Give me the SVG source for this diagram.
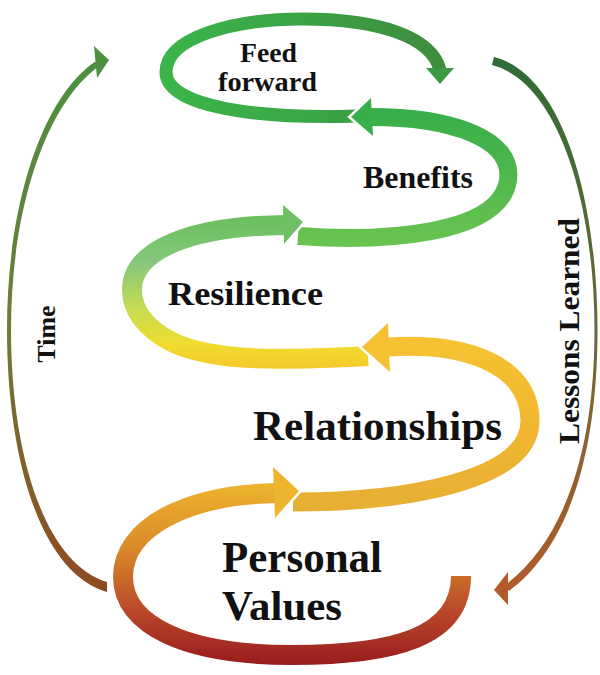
<svg xmlns="http://www.w3.org/2000/svg" width="600" height="675" viewBox="0 0 600 675">
<style>
.lbl{font-family:"Liberation Serif","Times New Roman",serif;font-weight:bold;fill:#111}
.rib{fill:none;stroke-linecap:butt}
.gap{fill:none;stroke:#fff;stroke-width:5;stroke-linejoin:miter;stroke-linecap:butt}
</style>
<defs>
<linearGradient id="gPV" gradientUnits="userSpaceOnUse" x1="0" y1="483" x2="0" y2="665">
<stop offset="0" stop-color="#EDB42C"/><stop offset="0.35" stop-color="#DB8B2A"/><stop offset="0.7" stop-color="#B9492A"/><stop offset="1" stop-color="#981B1E"/>
</linearGradient>
<linearGradient id="gRel" gradientUnits="userSpaceOnUse" x1="0" y1="333" x2="0" y2="511">
<stop offset="0" stop-color="#F6C331"/><stop offset="0.5" stop-color="#F2B731"/><stop offset="1" stop-color="#E6AE33"/>
</linearGradient>
<linearGradient id="gRes" gradientUnits="userSpaceOnUse" x1="0" y1="218" x2="0" y2="367">
<stop offset="0" stop-color="#6BBF5E"/><stop offset="0.3" stop-color="#86C77D"/><stop offset="0.62" stop-color="#C9DC50"/><stop offset="0.85" stop-color="#F0DC2E"/><stop offset="1" stop-color="#F4CB2C"/>
</linearGradient>
<linearGradient id="gBen" gradientUnits="userSpaceOnUse" x1="0" y1="108" x2="0" y2="247">
<stop offset="0" stop-color="#37AD4A"/><stop offset="1" stop-color="#6AC450"/>
</linearGradient>
<linearGradient id="gFeed" gradientUnits="userSpaceOnUse" x1="170" y1="100" x2="450" y2="40">
<stop offset="0" stop-color="#3BB54A"/><stop offset="0.5" stop-color="#3AA446"/><stop offset="1" stop-color="#3E8A3C"/>
</linearGradient>
<linearGradient id="gTime" gradientUnits="userSpaceOnUse" x1="0" y1="55" x2="0" y2="592">
<stop offset="0" stop-color="#4C9140"/><stop offset="0.5" stop-color="#6F7A3A"/><stop offset="1" stop-color="#8E4A20"/>
</linearGradient>
<linearGradient id="gLes" gradientUnits="userSpaceOnUse" x1="0" y1="57" x2="0" y2="605">
<stop offset="0" stop-color="#2F6B35"/><stop offset="0.5" stop-color="#6A6A36"/><stop offset="1" stop-color="#B5592A"/>
</linearGradient>
</defs>

<g id="connectors">
<g id="time-arc">
<path d="M107,592 C38,572 7,452 7,330 C7,203 43,97 95.3,61.5 L98.7,66.5 C47,103 11,207 11,330 C11,448 42,562 107,582 Z" fill="url(#gTime)"/>
<polygon points="109,60 94,46 97,78" fill="#4C9140"/>
<text class="lbl" font-size="26" text-anchor="middle" transform="translate(55,334) rotate(-90)">Time</text>
</g>
<g id="lessons-arc">
<path d="M494,57 C562,74 597.5,198 597.5,330 C597.5,457 567,548 509,591 L505,585 C563,542 594.5,453 594.5,330 C594.5,202 558,82 492,65 Z" fill="url(#gLes)"/>
<polygon points="494,590 508,572 508,605" fill="#B5592A"/>
<text class="lbl" font-size="29" text-anchor="middle" transform="translate(579,331) rotate(-90)" textLength="226" lengthAdjust="spacingAndGlyphs">Lessons Learned</text>
</g>
</g>

<g id="feed-forward">
<path class="rib" d="M356,116 C262,119 166,108 166,72 C166,38 232,19 302,19 C382,19 432,38 440,70" stroke="url(#gFeed)" stroke-width="13"/>
<polygon points="440,84 426,68 454,68" fill="#3C9A42"/>
<text class="lbl" font-size="28" x="240" y="62" textLength="57" lengthAdjust="spacingAndGlyphs">Feed</text>
<text class="lbl" font-size="28" x="218" y="91" textLength="99" lengthAdjust="spacingAndGlyphs">forward</text>
</g>

<g id="benefits">
<path class="rib" d="M298,236 C380,242 500,236 508,180 C514,138 450,117 370,117" stroke="url(#gBen)" stroke-width="18"/>
<polyline class="gap" points="371,98 351,117 373,136"/>
<polygon points="351,117 371,98 373,136" fill="#38AE4A"/>
<text class="lbl" font-size="31" x="363" y="188" textLength="110" lengthAdjust="spacingAndGlyphs">Benefits</text>
</g>

<g id="resilience">
<path class="rib" d="M368,356 C290,360 215,363 172,342 C143,327 132,308 132,290 C132,250 190,226 285,225" stroke="url(#gRes)" stroke-width="20"/>
<polyline class="gap" points="283,205 303,222 284,244"/>
<polygon points="303,222 283,205 284,244" fill="#6FC064"/>
<text class="lbl" font-size="33" x="168" y="305" textLength="155" lengthAdjust="spacingAndGlyphs">Resilience</text>
</g>

<g id="relationships">
<path class="rib" d="M293,502 C400,502 530,482 530,421 C530,362 460,342 388,347" stroke="url(#gRel)" stroke-width="19"/>
<polyline class="gap" points="388,323 362,347 390,372"/>
<polygon points="362,347 388,323 390,372" fill="#F5C132"/>
<text class="lbl" font-size="42" x="253" y="440" textLength="249" lengthAdjust="spacingAndGlyphs">Relationships</text>
</g>

<g id="personal-values">
<path class="rib" d="M461,576 C461,638 392,655 292,655 C185,655 123,625 123,577 C123,528 185,495 276,493" stroke="url(#gPV)" stroke-width="20"/>
<polyline class="gap" points="273,467 299,491 275,518"/>
<polygon points="299,491 273,467 275,518" fill="#EDB52E"/>
<text class="lbl" font-size="44" x="222" y="572" textLength="160" lengthAdjust="spacingAndGlyphs">Personal</text>
<text class="lbl" font-size="43" x="222" y="620" textLength="120" lengthAdjust="spacingAndGlyphs">Values</text>
</g>
</svg>
